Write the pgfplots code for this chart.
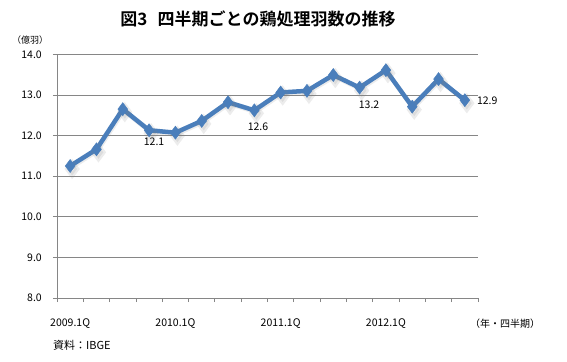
\documentclass[border=0pt]{standalone}
\usepackage{fontspec}
\setmainfont{Noto Sans CJK JP}[BoldFont={Noto Sans CJK JP Bold}]
\usepackage{pgfplots}
\pgfplotsset{compat=1.18}
\definecolor{lineblue}{HTML}{4A7EBB}
\definecolor{axgray}{HTML}{868686}
\begin{document}
\begin{tikzpicture}
\path[use as bounding box] (0,0) rectangle (567bp,362bp);
\begin{axis}[
  at={(57bp,64bp)}, anchor=south west,
  width=421bp, height=243.7bp, scale only axis,
  xmin=0.5, xmax=16.5, ymin=8, ymax=14,
  axis x line*=bottom, axis y line*=left,
  axis line style={draw=axgray, line width=0.8bp},
  ytick={8,9,...,14},
  ymajorgrids, grid style={draw=axgray, line width=0.8bp},
  tick align=outside, major tick length=4bp,
  tick style={draw=axgray, line width=0.8bp},
  xtick={0.5,1.5,...,16.5}, xticklabels={},
  extra x ticks={1,5,9,13},
  extra x tick labels={2009.1Q,2010.1Q,2011.1Q,2012.1Q},
  extra x tick style={major tick length=0pt, grid=none,
     xticklabel style={anchor=north, inner sep=0pt, yshift=-20bp}},
  /pgf/number format/assume math mode=true,
  yticklabel style={/pgf/number format/fixed, /pgf/number format/fixed zerofill, /pgf/number format/precision=1,
     anchor=east, inner sep=0pt, xshift=-11bp},
  tick label style={font=\fontsize{10.5bp}{12bp}\selectfont},
  clip=false,
]
\addplot[draw=black!50, opacity=0.15, line width=4.5bp, mark=diamond*, mark size=6.5bp,
  mark options={fill=black!50, draw=black!50}, transform canvas={xshift=1bp,yshift=-1.5bp}]
  coordinates {(1,11.25)(2,11.66)(3,12.65)(4,12.13)(5,12.07)(6,12.36)(7,12.82)(8,12.62)
  (9,13.06)(10,13.10)(11,13.49)(12,13.18)(13,13.61)(14,12.71)(15,13.39)(16,12.87)};
\addplot[draw=lineblue, line width=4.5bp, mark=diamond*, mark size=6.5bp,
  mark options={fill=lineblue, draw=lineblue, line width=0.5bp}]
  coordinates {(1,11.25)(2,11.66)(3,12.65)(4,12.13)(5,12.07)(6,12.36)(7,12.82)(8,12.62)
  (9,13.06)(10,13.10)(11,13.49)(12,13.18)(13,13.61)(14,12.71)(15,13.39)(16,12.87)};
\begin{scope}[every node/.style={font=\fontsize{10.5bp}{12bp}\selectfont, inner sep=0pt}]
\node at (axis cs:4.19,11.85) {12.1};
\node at (axis cs:8.14,12.21) {12.6};
\node at (axis cs:12.36,12.77) {13.2};
\node at (axis cs:16.85,12.85) {12.9};
\end{scope}
\end{axis}
\node[font=\bfseries\fontsize{17bp}{19bp}\selectfont, inner sep=0pt] at (258bp,343bp) {図3\hspace{0.6em}四半期ごとの鶏処理羽数の推移};
\node[font=\fontsize{9bp}{10bp}\selectfont, inner sep=0pt] at (30bp,322bp) {（億羽）};
\node[font=\fontsize{10bp}{11bp}\selectfont, inner sep=0pt] at (505bp,38bp) {（年・四半期）};
\node[font=\fontsize{11bp}{12bp}\selectfont, inner sep=0pt, anchor=west] at (53bp,17bp) {資料：IBGE};
\end{tikzpicture}
\end{document}
